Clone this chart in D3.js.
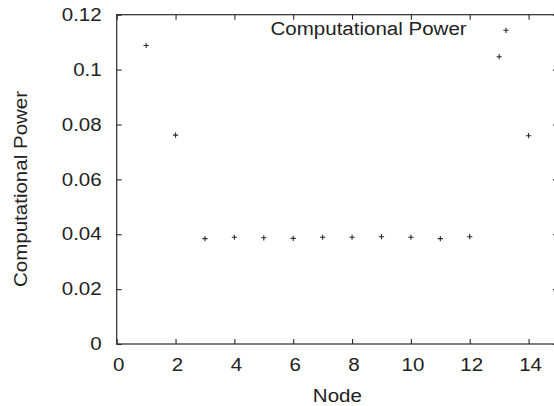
<!DOCTYPE html>
<html>
<head>
<meta charset="utf-8">
<script src="https://cdn.jsdelivr.net/npm/d3@7"></script>
<style>
  html, body { margin: 0; padding: 0; background: #fff; }
  svg { display: block; }
  text { font-family: "Liberation Sans", Arial, Helvetica, sans-serif; fill: #222; }
</style>
</head>
<body>
<svg id="chart" width="554" height="406"></svg>
<script>
// Computational power measured per node
const nodes = [1, 2, 3, 4, 5, 6, 7, 8, 9, 10, 11, 12, 13, 14];
const power = [0.1088, 0.0761, 0.0384, 0.0389, 0.0387, 0.0385, 0.0389,
               0.0389, 0.0391, 0.0389, 0.0384, 0.0391, 0.1047, 0.0759];
const xTicks = [0, 2, 4, 6, 8, 10, 12, 14];
const yTicks = [0, 0.02, 0.04, 0.06, 0.08, 0.1, 0.12];
const seriesName = "Computational Power";

const svg = d3.select("#chart");
const plotL = 116.7, plotR = 558, plotT = 14.7, plotB = 344;
const ink = "#2a2a2a";
const fontSize = 18;
const widen = 1.14; // the lettering is set slightly wide

const x = d3.scaleLinear().domain([0, 15]).range([plotL, plotR]);
const y = d3.scaleLinear().domain([0, 0.12]).range([plotB, plotT]);

// Frame around the plot area
svg.append("rect")
  .attr("x", plotL).attr("y", plotT)
  .attr("width", plotR - plotL).attr("height", plotB - plotT)
  .attr("fill", "none").attr("stroke", ink).attr("stroke-width", 1.2);

const fmtY = d => d === 0 ? "0" : d3.format("~g")(d);

// Bottom axis with inward ticks and labels
const gx = svg.append("g").attr("transform", `translate(0,${plotB})`)
  .call(d3.axisBottom(x).tickValues(xTicks).tickSize(-5).tickPadding(14).tickFormat(d3.format("d")));
// Top mirror ticks
const gxt = svg.append("g").attr("transform", `translate(0,${plotT})`)
  .call(d3.axisTop(x).tickValues(xTicks).tickSize(-5).tickFormat(""));
// Left axis
const gy = svg.append("g").attr("transform", `translate(${plotL},0)`)
  .call(d3.axisLeft(y).tickValues(yTicks).tickSize(-5).tickPadding(15).tickFormat(fmtY));
// Right mirror ticks
const gyr = svg.append("g").attr("transform", `translate(${plotR},0)`)
  .call(d3.axisRight(y).tickValues(yTicks).tickSize(-5).tickFormat(""));

[gx, gxt, gy, gyr].forEach(g => {
  g.select(".domain").remove();
  g.selectAll(".tick line").attr("stroke", ink).attr("stroke-width", 1.1);
  g.selectAll(".tick text").attr("fill", "#222")
    .style("font-family", "'Liberation Sans', Arial, sans-serif")
    .style("font-size", fontSize + "px");
});
gx.selectAll(".tick text").attr("dx", 1.5);

// Axis titles
svg.append("text")
  .attr("x", (plotL + plotR) / 2).attr("y", 401.5)
  .attr("text-anchor", "middle")
  .style("font-size", fontSize + "px")
  .text("Node");

svg.append("text")
  .attr("transform", `translate(26.5,189) rotate(-90)`)
  .attr("text-anchor", "middle")
  .style("font-size", fontSize + "px")
  .text(seriesName);

// Point marker: a small plus sign
const plus = s => `M${-s},0H${s}M0,${-s}V${s}`;

svg.append("g").selectAll("path")
  .data(nodes.map((n, i) => ({ n, v: power[i] })))
  .join("path")
  .attr("transform", d => `translate(${x(d.n)},${y(d.v)})`)
  .attr("d", plus(2.6))
  .attr("stroke", ink).attr("stroke-width", 1.1).attr("fill", "none");

// Key
const key = svg.append("g");
key.append("text")
  .attr("x", 466.7).attr("y", 34.6)
  .attr("text-anchor", "end")
  .style("font-size", fontSize + "px")
  .text(seriesName);
key.append("path")
  .attr("transform", "translate(506,30.3)")
  .attr("d", plus(2.6))
  .attr("stroke", ink).attr("stroke-width", 1.1).attr("fill", "none");

// Stretch every label horizontally to the wider setting
svg.selectAll("text").each(function () {
  const w = this.getComputedTextLength();
  if (w > 0) {
    d3.select(this).attr("textLength", w * widen).attr("lengthAdjust", "spacingAndGlyphs");
  }
});
</script>
</body>
</html>
